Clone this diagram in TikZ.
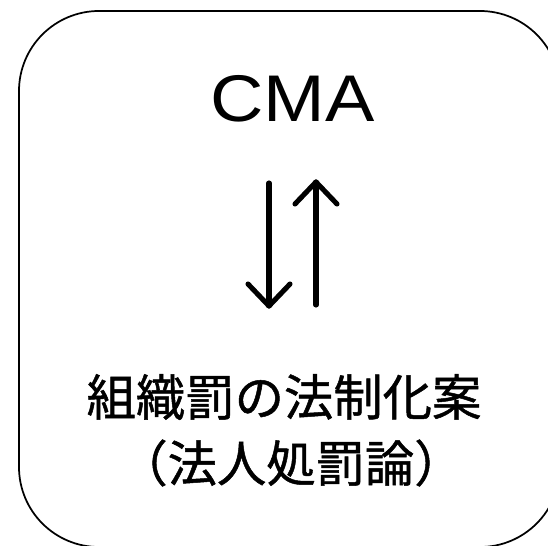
\documentclass[tikz,border=0pt]{standalone}
\usepackage{fontspec}
\usepackage{graphicx}
\usetikzlibrary{calc}
\setmainfont{Liberation Sans}
\newfontfamily\jpfont{Noto Sans CJK JP}[FakeBold=1.0]
\tikzset{
  frame/.style={line width=1.3pt, rounded corners=60pt},
  arrowline/.style={line width=3.8pt, line cap=round, line join=round},
  latin/.style={font=\fontsize{49.5pt}{58pt}\selectfont, inner sep=0pt},
  jp/.style={font=\jpfont\fontsize{37pt}{49.5pt}\selectfont, inner sep=0pt, align=center}
}
\begin{document}
\begin{tikzpicture}[x=0.75pt,y=-0.75pt]
\useasboundingbox (0,0) rectangle (548,545);
\clip (0,0) rectangle (548,545);
\draw[frame] (19,11) rectangle (560,547);
\node[latin] (cma) at (292.5,98.5) {\scalebox{1.12}[1]{CMA}};
\node[jp] (l1) at (284,397) {組織罰の法制化案};
\node[jp] (l2) at (291,463) {（法人処罰論）};
\coordinate (dtop) at (269,183);
\coordinate (dtip) at (269,306);
\coordinate (utip) at (316,182);
\coordinate (ubot) at (316,305);
\draw[arrowline] (dtop) -- (dtip);
\draw[arrowline] ($(dtip)+(-21,-22)$) -- (dtip) -- ($(dtip)+(21,-22)$);
\draw[arrowline] (ubot) -- (utip);
\draw[arrowline] ($(utip)+(-21,22)$) -- (utip) -- ($(utip)+(21,22)$);
\end{tikzpicture}
\end{document}
